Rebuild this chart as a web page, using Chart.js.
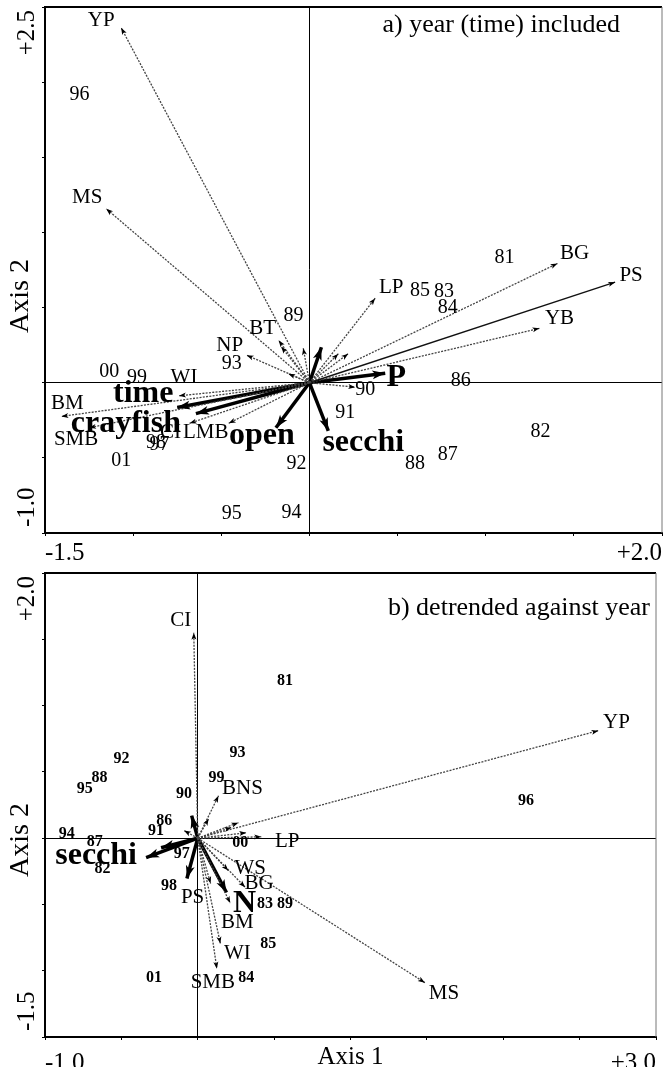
<!DOCTYPE html>
<html>
<head>
<meta charset="utf-8">
<script src="https://cdn.jsdelivr.net/npm/chart.js@4.4.1/dist/chart.umd.min.js"></script>
<style>
  html, body { margin: 0; padding: 0; background: #fff; }
  canvas { display: block; }
</style>
</head>
<body>
<canvas id="chartA" width="664" height="566"></canvas>
<canvas id="chartB" width="664" height="501"></canvas>
<script>
// ---- panel a) year (time) included ----
const aSpecies  = ['YP', 'MS', 'BG', 'PS', 'YB', 'LP', 'NP', 'BT', 'WI', 'BM', 'SMB', 'LMB', 'CI', '', '', '', '', '', ''];
const aSpeciesX = [-1.068, -1.153, 1.407, 1.734, 1.305, 0.373, -0.356, -0.175, -0.74, -1.407, -1.25, -0.458, -0.68, -0.16, -0.035, 0.164, 0.22, 0.26, -0.12];
const aSpeciesY = [2.362, 1.158, 0.793, 0.669, 0.362, 0.562, 0.183, 0.283, -0.087, -0.224, -0.30, -0.27, -0.27, 0.24, 0.23, 0.193, 0.193, -0.03, 0.06];

const aEnv  = ['time', 'crayfish', 'open', 'secchi', 'P', ''];
const aEnvX = [-0.75, -0.644, -0.19, 0.107, 0.43, 0.068];
const aEnvY = [-0.165, -0.206, -0.30, -0.32, 0.063, 0.236];

const aYears = ['96', '00', '99', '93', '89', '01', '98', '97', '92', '95', '94', '90', '91', '86', '82', '87', '88', '85', '83', '84', '81'];
const aYearX = [-1.305, -1.136, -0.978, -0.441, -0.09, -1.068, -0.87, -0.85, -0.073, -0.441, -0.102, 0.316, 0.203, 0.859, 1.311, 0.785, 0.599, 0.627, 0.763, 0.785, 1.107];
const aYearY = [1.913, 0.07, 0.03, 0.123, 0.445, -0.516, -0.402, -0.41, -0.542, -0.875, -0.862, -0.05, -0.203, 0.01, -0.329, -0.482, -0.536, 0.615, 0.602, 0.496, 0.83];

const aTicksX = ['-1.5', '+2.0'];
const aTicksY = ['-1.0', '+2.5'];

// ---- panel b) detrended against year ----
const bSpecies  = ['CI', 'YP', 'MS', 'BNS', 'WS', 'BG', 'BM', 'WI', 'SMB', 'LP', 'PS', '', '', '', '', ''];
const bSpeciesX = [-0.026, 2.623, 1.487, 0.136, 0.2, 0.31, 0.213, 0.148, 0.125, 0.416, 0.084, 0.266, 0.318, 0.22, 0.071, -0.09];
const bSpeciesY = [1.55, 0.811, -1.09, 0.32, -0.245, -0.37, -0.49, -0.795, -0.985, 0.01, -0.342, 0.117, 0.04, 0.08, 0.147, 0.057];

const bEnv  = ['secchi', '', '', 'N', ''];
const bEnvX = [-0.338, -0.24, -0.071, 0.188, -0.04];
const bEnvY = [-0.147, -0.072, -0.305, -0.41, 0.17];

const bYears = ['81', '93', '92', '88', '95', '99', '90', '86', '91', '94', '87', '82', '97', '98', '00', '83', '89', '85', '84', '01', '96'];
const bYearX = [0.571, 0.26, -0.5, -0.643, -0.74, 0.123, -0.09, -0.22, -0.273, -0.857, -0.675, -0.623, -0.104, -0.188, 0.279, 0.44, 0.571, 0.461, 0.318, -0.286, 2.149];
const bYearY = [1.188, 0.645, 0.6, 0.456, 0.373, 0.456, 0.336, 0.132, 0.057, 0.034, -0.026, -0.23, -0.117, -0.358, -0.034, -0.494, -0.494, -0.796, -1.052, -1.052, 0.283];

const bTicksX = ['-1.0', '+3.0'];
const bTicksY = ['-1.5', '+2.0'];

// label placement (pixels from arrow tip), kept apart from the data
const aSpeciesOff = [[-20,-7],[-19,-11],[17,-10],[16,-7],[20,-10],[16,-11],[-17,-10],[-16,-12],[5,-18],[6,-13],[-13,12],[-23,9],[-19,9]];
const aEnvOff = [[-34,-14],[-70,10],[-14,8],[35,12],[11,4]];
const bSpeciesOff = [[-13,-12],[18,-8],[19,11],[24,-7],[22,-2],[14,-4],[7,19],[17,10],[-4,14],[26,5],[-18,14]];
const bEnvOff = [[-50,-2],[0,0],[0,0],[18,11]];

const serif = '"Liberation Serif", "Times New Roman", serif';

function zeroGrid(c) {
  return c.tick && Math.abs(c.tick.value) < 1e-9 ? '#000' : 'rgba(0,0,0,0)';
}

function drawHead(ctx, x0, y0, x1, y1, len, wid) {
  const a = Math.atan2(y1 - y0, x1 - x0);
  ctx.save();
  ctx.translate(x1, y1);
  ctx.rotate(a);
  ctx.beginPath();
  ctx.moveTo(0, 0);
  ctx.lineTo(-len, wid / 2);
  ctx.lineTo(-len * 0.75, 0);
  ctx.lineTo(-len, -wid / 2);
  ctx.closePath();
  ctx.fill();
  ctx.restore();
}

const biplotPlugin = {
  id: 'biplot',
  afterDatasetsDraw(chart) {
    const ctx = chart.ctx;
    ctx.save();
    ctx.fillStyle = '#000';
    chart.data.datasets.forEach((ds, i) => {
      const meta = chart.getDatasetMeta(i);
      if (ds.arrow) {
        const p0 = meta.data[0], p1 = meta.data[1];
        if (ds.arrow === 'bold') drawHead(ctx, p0.x, p0.y, p1.x, p1.y, 13, 9);
        else drawHead(ctx, p0.x, p0.y, p1.x, p1.y, 7, 5);
      }
    });
    chart.data.datasets.forEach((ds, i) => {
      const meta = chart.getDatasetMeta(i);
      ctx.textAlign = 'center';
      ctx.textBaseline = 'middle';
      if (ds.tag) {
        const p1 = meta.data[1];
        ctx.font = ds.tagFont;
        ctx.fillText(ds.tag, p1.x + ds.tagOff[0], p1.y + ds.tagOff[1]);
      }
      if (ds.yearLabels) {
        ctx.font = ds.yearFont;
        meta.data.forEach((pt, j) => ctx.fillText(ds.yearLabels[j], pt.x, pt.y));
      }
    });
    ctx.restore();
  },
  afterDraw(chart) {
    const o = chart.options.plugins.biplot;
    const ctx = chart.ctx;
    const area = chart.chartArea;
    ctx.save();
    // top and right edges of the frame
    ctx.strokeStyle = '#000';
    ctx.lineWidth = 2;
    ctx.beginPath();
    ctx.moveTo(area.left, area.top);
    ctx.lineTo(area.right, area.top);
    ctx.stroke();
    ctx.strokeStyle = '#777';
    ctx.lineWidth = 1;
    ctx.beginPath();
    ctx.moveTo(area.right, area.top);
    ctx.lineTo(area.right, area.bottom);
    ctx.stroke();

    ctx.fillStyle = '#000';
    // panel title
    ctx.font = '26px ' + serif;
    ctx.textAlign = 'right';
    ctx.textBaseline = 'alphabetic';
    ctx.fillText(o.title, o.titleX, o.titleY);

    // rotated y tick labels and axis title
    const ys = chart.scales.y;
    ctx.font = '25px ' + serif;
    ctx.textBaseline = 'middle';
    ctx.save();
    ctx.translate(area.left - 18, ys.getPixelForValue(ys.max) + 3);
    ctx.rotate(-Math.PI / 2);
    ctx.textAlign = 'right';
    ctx.fillText(o.yTicks[1], 0, 0);
    ctx.restore();
    ctx.save();
    ctx.translate(area.left - 18, ys.getPixelForValue(ys.min) - 6);
    ctx.rotate(-Math.PI / 2);
    ctx.textAlign = 'left';
    ctx.fillText(o.yTicks[0], 0, 0);
    ctx.restore();
    ctx.save();
    ctx.font = '28px ' + serif;
    ctx.translate(21, o.axis2Y);
    ctx.rotate(-Math.PI / 2);
    ctx.textAlign = 'center';
    ctx.fillText('Axis 2', 0, 0);
    ctx.restore();

    if (o.axis1) {
      ctx.font = '25px ' + serif;
      ctx.textAlign = 'center';
      ctx.textBaseline = 'alphabetic';
      ctx.fillText('Axis 1', (area.left + area.right) / 2, o.axis1Y);
    }
    ctx.restore();
  }
};

function makePanel(id, p) {
  const datasets = [];
  p.species.forEach((name, i) => {
    const solid = p.solid.includes(name);
    datasets.push({
      data: [{ x: 0, y: 0 }, { x: p.sx[i], y: p.sy[i] }],
      showLine: true,
      borderColor: solid ? '#111' : '#444',
      borderWidth: solid ? 1.4 : 1.3,
      borderDash: solid ? [] : [2, 1.3],
      pointRadius: 0,
      arrow: 'thin',
      tag: name,
      tagOff: p.speciesOff[i] || [0, 0],
      tagFont: '21px ' + serif
    });
  });
  p.env.forEach((name, i) => {
    datasets.push({
      data: [{ x: 0, y: 0 }, { x: p.ex[i], y: p.ey[i] }],
      showLine: true,
      borderColor: '#000',
      borderWidth: 3.5,
      pointRadius: 0,
      arrow: 'bold',
      tag: name,
      tagOff: p.envOff[i] || [0, 0],
      tagFont: 'bold 32px ' + serif
    });
  });
  datasets.push({
    data: p.years.map((y, i) => ({ x: p.yx[i], y: p.yy[i] })),
    pointRadius: 0,
    showLine: false,
    yearLabels: p.years,
    yearFont: p.yearFont
  });

  return new Chart(document.getElementById(id), {
    type: 'scatter',
    data: { datasets },
    options: {
      responsive: false,
      animation: false,
      layout: { padding: { top: 7, right: 2, left: 0, bottom: 0 } },
      plugins: {
        legend: { display: false },
        tooltip: { enabled: false },
        biplot: p.text
      },
      scales: {
        x: {
          type: 'linear', min: p.xRange[0], max: p.xRange[1],
          ticks: {
            stepSize: 0.5, autoSkip: false, align: 'inner', maxRotation: 0, minRotation: 0,
            padding: p.xPad, color: '#000', font: { family: serif, size: 25 },
            callback: (v, i, t) => i === 0 ? p.xTicks[0] : (i === t.length - 1 ? p.xTicks[1] : '')
          },
          grid: { color: zeroGrid, lineWidth: 1, tickColor: '#000', tickLength: 3 },
          border: { color: '#000', width: 2 },
          afterFit: s => { s.height = p.xAxisH; }
        },
        y: {
          type: 'linear', min: p.yRange[0], max: p.yRange[1],
          ticks: { stepSize: 0.5, display: false },
          grid: { color: zeroGrid, lineWidth: 1, tickColor: '#000', tickLength: 3 },
          border: { color: '#000', width: 2 },
          afterFit: s => { s.width = 45; }
        }
      }
    },
    plugins: [biplotPlugin]
  });
}

makePanel('chartA', {
  species: aSpecies, sx: aSpeciesX, sy: aSpeciesY, speciesOff: aSpeciesOff, solid: ['PS'],
  env: aEnv, ex: aEnvX, ey: aEnvY, envOff: aEnvOff,
  years: aYears, yx: aYearX, yy: aYearY, yearFont: '20px ' + serif,
  xRange: [-1.5, 2.0], yRange: [-1.0, 2.5], xTicks: aTicksX, xPad: 2, xAxisH: 33,
  text: { title: 'a) year (time) included', titleX: 620, titleY: 32, yTicks: aTicksY, axis2Y: 296, axis1: false }
});

makePanel('chartB', {
  species: bSpecies, sx: bSpeciesX, sy: bSpeciesY, speciesOff: bSpeciesOff, solid: [],
  env: bEnv, ex: bEnvX, ey: bEnvY, envOff: bEnvOff,
  years: bYears, yx: bYearX, yy: bYearY, yearFont: 'bold 16px ' + serif,
  xRange: [-1.0, 3.0], yRange: [-1.5, 2.0], xTicks: bTicksX, xPad: 8, xAxisH: 30,
  text: { title: 'b) detrended against year', titleX: 650, titleY: 49, yTicks: bTicksY, axis2Y: 274, axis1: true, axis1Y: 498 }
});
</script>
</body>
</html>
